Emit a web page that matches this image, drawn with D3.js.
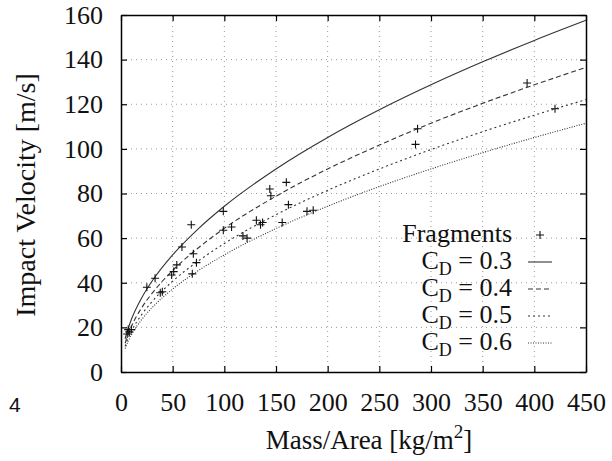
<!DOCTYPE html>
<html>
<head>
<meta charset="utf-8">
<script src="https://cdn.jsdelivr.net/npm/d3@7"></script>
<style>
  body { margin: 0; background: #fff; }
</style>
</head>
<body>
<div id="chart"></div>
<script>
// sample positions along the curves (mass/area)
const massGrid = [4, 5, 10, 20, 30, 50, 75, 100, 150, 200, 250, 300, 350, 400, 450];

// impact velocity
const cd03 = [14.9, 16.6, 23.5, 33.2, 40.7, 52.5, 64.3, 74.3, 91.0, 105.1, 117.5, 128.7, 139.0, 148.6, 157.6];
const cd04 = [12.9, 14.4, 20.3, 28.8, 35.2, 45.5, 55.7, 64.4, 78.8, 91.0, 101.7, 111.5, 120.4, 128.7, 136.5];
const cd05 = [11.5, 12.9, 18.2, 25.7, 31.5, 40.7, 49.8, 57.6, 70.5, 81.4, 91.0, 99.7, 107.7, 115.1, 122.1];
const cd06 = [10.5, 11.7, 16.6, 23.5, 28.8, 37.2, 45.5, 52.5, 64.3, 74.3, 83.1, 91.0, 98.3, 105.1, 111.5];

// measured fragments
const fragMass = [6, 7, 8, 10, 25, 33, 38, 40, 49, 51, 54, 59, 68, 69, 70, 73, 99, 99, 107, 118, 122, 131, 135, 137, 144, 145, 156, 160, 162, 180, 186, 285, 287, 393, 420];
const fragVel  = [17, 19, 18, 19, 38, 42, 35.5, 36, 43.5, 45, 48, 56, 66, 44, 53, 49, 72, 63.5, 65, 61, 60, 68, 66, 67, 82, 79, 67, 85, 75, 72, 72.5, 102, 109, 129.5, 118];

const xTicks = [0, 50, 100, 150, 200, 250, 300, 350, 400, 450];
const yTicks = [0, 20, 40, 60, 80, 100, 120, 140, 160];

const series = [
  { label: '0.3', values: cd03, dash: null },
  { label: '0.4', values: cd04, dash: '5,3' },
  { label: '0.5', values: cd05, dash: '2,3' },
  { label: '0.6', values: cd06, dash: '1,1.5' }
];

const FONT = '"Liberation Serif"';
const width = 612, height = 461;
const margin = { top: 15, right: 26, bottom: 89, left: 121 };

const svg = d3.select('#chart').append('svg')
  .attr('width', width)
  .attr('height', height);

const x = d3.scaleLinear().domain([0, 450]).range([margin.left, width - margin.right]);
const y = d3.scaleLinear().domain([0, 160]).range([height - margin.bottom, margin.top]);

// dotted grid
svg.append('g')
  .selectAll('line.gx')
  .data(xTicks.slice(1, -1))
  .enter().append('line')
  .attr('x1', d => x(d)).attr('x2', d => x(d))
  .attr('y1', y(0)).attr('y2', y(160))
  .attr('stroke', '#999').attr('stroke-width', 1).attr('stroke-dasharray', '1,4');

svg.append('g')
  .selectAll('line.gy')
  .data(yTicks.slice(1, -1))
  .enter().append('line')
  .attr('x1', x(0)).attr('x2', x(450))
  .attr('y1', d => y(d)).attr('y2', d => y(d))
  .attr('stroke', '#999').attr('stroke-width', 1).attr('stroke-dasharray', '1,4');

// axes with inward ticks on all sides
const axBottom = svg.append('g')
  .attr('transform', `translate(0, ${y(0)})`)
  .call(d3.axisBottom(x).tickValues(xTicks).tickSizeInner(-6).tickSizeOuter(0).tickPadding(21));
const axLeft = svg.append('g')
  .attr('transform', `translate(${x(0)}, 0)`)
  .call(d3.axisLeft(y).tickValues(yTicks).tickSizeInner(-6).tickSizeOuter(0).tickPadding(18));
const axTop = svg.append('g')
  .attr('transform', `translate(0, ${y(160)})`)
  .call(d3.axisTop(x).tickValues(xTicks).tickSizeInner(-6).tickSizeOuter(0).tickFormat(''));
const axRight = svg.append('g')
  .attr('transform', `translate(${x(450)}, 0)`)
  .call(d3.axisRight(y).tickValues(yTicks).tickSizeInner(-6).tickSizeOuter(0).tickFormat(''));

[axBottom, axLeft, axTop, axRight].forEach(g => {
  g.select('.domain').attr('stroke', '#000').attr('stroke-width', 1.5);
  g.selectAll('.tick line').attr('stroke', '#000').attr('stroke-width', 1.2);
  g.selectAll('.tick text')
    .style('font-family', FONT)
    .style('font-size', '26px')
    .attr('fill', '#111');
});

// curves
const line = d3.line()
  .x((d, i) => x(massGrid[i]))
  .y(d => y(d))
  .curve(d3.curveMonotoneX);

series.forEach(s => {
  svg.append('path')
    .datum(s.values)
    .attr('fill', 'none')
    .attr('stroke', '#333')
    .attr('stroke-width', 1.1)
    .attr('stroke-dasharray', s.dash)
    .attr('d', line);
});

// fragment markers (+)
const frag = fragMass.map((m, i) => ({ m: m, v: fragVel[i] }));
const cross = svg.append('g').attr('stroke', '#111').attr('stroke-width', 1.1);
cross.selectAll('path')
  .data(frag)
  .enter().append('path')
  .attr('d', d => `M${x(d.m) - 4},${y(d.v)}h8M${x(d.m)},${y(d.v) - 4}v8`);

// axis labels
const xLabel = svg.append('text')
  .attr('x', 369)
  .attr('y', 449)
  .attr('text-anchor', 'middle')
  .attr('fill', '#111')
  .style('font-family', FONT)
  .style('font-size', '27px');
xLabel.append('tspan').text('Mass/Area [kg/m');
xLabel.append('tspan').attr('dy', -11).style('font-size', '19px').text('2');
xLabel.append('tspan').attr('dy', 11).text(']');

svg.append('text')
  .attr('transform', `translate(35, 195) rotate(-90)`)
  .attr('text-anchor', 'middle')
  .attr('fill', '#111')
  .style('font-family', FONT)
  .style('font-size', '28px')
  .text('Impact Velocity [m/s]');

svg.append('text')
  .attr('x', 9)
  .attr('y', 412)
  .attr('fill', '#111')
  .style('font-family', '"Liberation Sans"')
  .style('font-size', '21px')
  .text('4');

// legend
const legendRows = [{ label: 'Fragments', y: 242 }]
  .concat(series.map((s, i) => ({ label: s.label, dash: s.dash, y: 269 + i * 27, curve: true })));

legendRows.forEach(r => {
  const t = svg.append('text')
    .attr('x', 512)
    .attr('y', r.y)
    .attr('text-anchor', 'end')
    .attr('fill', '#111')
    .style('font-family', FONT)
    .style('font-size', '26px');
  if (r.curve) {
    t.append('tspan').text('C');
    t.append('tspan').attr('dy', 6).style('font-size', '18px').text('D');
    t.append('tspan').attr('dy', -6).text(' = ' + r.label);
    svg.append('line')
      .attr('x1', 528).attr('x2', 552)
      .attr('y1', r.y - 7).attr('y2', r.y - 7)
      .attr('stroke', '#333').attr('stroke-width', 1.1)
      .attr('stroke-dasharray', r.dash);
  } else {
    t.text(r.label);
    svg.append('path')
      .attr('d', `M536,${r.y - 7}h8M540,${r.y - 11}v8`)
      .attr('stroke', '#111').attr('stroke-width', 1.1);
  }
});
</script>
</body>
</html>
